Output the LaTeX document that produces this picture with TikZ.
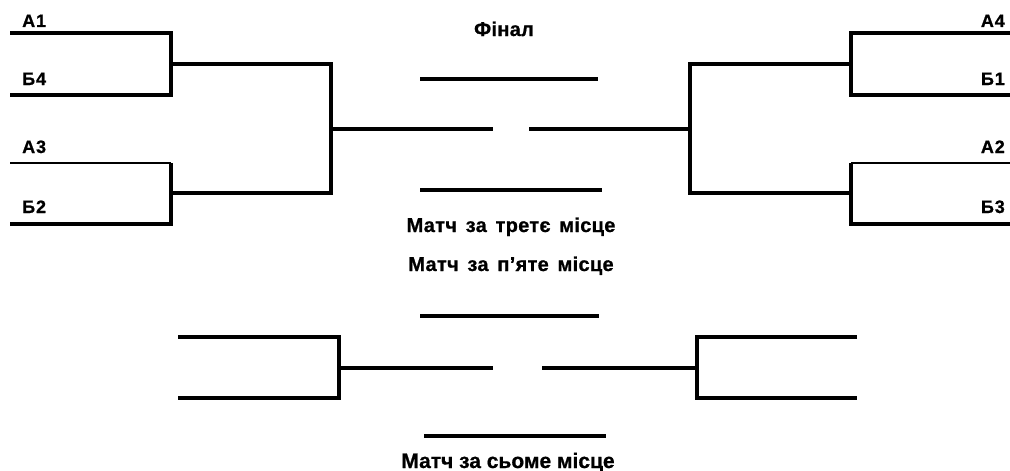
\documentclass[tikz,border=0pt]{standalone}
\usepackage{fontspec}
\setmainfont{Liberation Sans}
\newfontfamily\lblfont[LetterSpace=5,FakeBold=0.8]{Liberation Sans Bold}
\newfontfamily\ttlfont[LetterSpace=1.5,WordSpace=1.5,FakeBold=0.8]{Liberation Sans Bold}
\newfontfamily\svnfont[FakeBold=0.8]{Liberation Sans Bold}
\begin{document}
\begin{tikzpicture}[x=1pt,y=-1pt,
  line/.style={line width=4pt,line cap=butt},
  thinline/.style={line width=2.5pt},
  midline/.style={line width=3.2pt},
  lbl/.style={inner sep=0pt,anchor=base west,font=\lblfont\fontsize{18}{21}\selectfont},
  rlbl/.style={inner sep=0pt,anchor=base east,font=\lblfont\fontsize{18}{21}\selectfont},
  ttl/.style={inner sep=0pt,anchor=base,font=\ttlfont\fontsize{20}{23}\selectfont},
  svn/.style={inner sep=0pt,anchor=base,font=\svnfont\fontsize{21}{24}\selectfont}]
\useasboundingbox (0,0) rectangle (1010,471);
% left top bracket
\coordinate (a1s) at (10,33); \coordinate (a1e) at (171,33);
\coordinate (b4s) at (10,95); \coordinate (b4e) at (171,95);
\coordinate (a3s) at (10,163); \coordinate (a3e) at (171,163);
\coordinate (b2s) at (10,224); \coordinate (b2e) at (171,224);
\coordinate (l1m) at (170,64); \coordinate (l2m) at (170,193);
\coordinate (lq1) at (331,64); \coordinate (lq2) at (331,193);
\coordinate (lc) at (331,129); \coordinate (lce) at (493,129);
\draw[line] (a1s) -- (a1e) -- (b4e) -- (b4s);
\draw[thinline] (a3s) -- (a3e);
\draw[line] (a3e) -- (b2e) -- (b2s);
\draw[line] (l1m) -- (lq1) -- (lq2) -- (l2m);
\draw[line] (lc) -- (lce);
% right top bracket
\coordinate (a4s) at (1010,33); \coordinate (a4e) at (851,33);
\coordinate (b1s) at (1010,95); \coordinate (b1e) at (851,95);
\coordinate (a2s) at (1010,163); \coordinate (a2e) at (851,163);
\coordinate (b3s) at (1010,224); \coordinate (b3e) at (851,224);
\coordinate (r1m) at (852,64); \coordinate (r2m) at (852,193);
\coordinate (rq1) at (690,64); \coordinate (rq2) at (690,193);
\coordinate (rc) at (690,129); \coordinate (rce) at (529,129);
\draw[line] (a4s) -- (a4e) -- (b1e) -- (b1s);
\draw[thinline] (a2s) -- (a2e);
\draw[line] (a2e) -- (b3e) -- (b3s);
\draw[line] (r1m) -- (rq1) -- (rq2) -- (r2m);
\draw[line] (rc) -- (rce);
% final and third place lines
\coordinate (f1) at (420,79); \coordinate (f2) at (598,79);
\coordinate (t1) at (420,190); \coordinate (t2) at (602,190);
\draw[line] (f1) -- (f2);
\draw[line] (t1) -- (t2);
% labels
\node[lbl] (A1) at (22,27) {А1};
\node[lbl] (B4) at (22,85) {Б4};
\node[lbl] (A3) at (22,153) {А3};
\node[lbl] (B2) at (22,213) {Б2};
\node[rlbl] (A4) at (1005,27) {А4};
\node[rlbl] (B1) at (1005,85) {Б1};
\node[rlbl] (A2) at (1005,153) {А2};
\node[rlbl] (B3) at (1005,213) {Б3};
\node[ttl] (fin) at (504,36) {Фінал};
\node[ttl] (third) at (511,232) {Матч за третє місце};
\node[ttl] (fifth) at (511,271) {Матч за п’яте місце};
\node[svn] (seventh) at (508,468) {Матч за сьоме місце};
% bottom brackets
\coordinate (p1) at (420,316); \coordinate (p2) at (599,316);
\draw[line] (p1) -- (p2);
\coordinate (bl1s) at (178,337); \coordinate (bl1e) at (339,337);
\coordinate (bl2s) at (178,398); \coordinate (bl2e) at (339,398);
\coordinate (blm) at (338,368); \coordinate (blme) at (493,368);
\draw[line] (bl1s) -- (bl1e) -- (bl2e) -- (bl2s);
\draw[midline] (blm) -- (blme);
\coordinate (br1s) at (857,337); \coordinate (br1e) at (697,337);
\coordinate (br2s) at (857,398); \coordinate (br2e) at (697,398);
\coordinate (brm) at (698,368); \coordinate (brme) at (542,368);
\draw[line] (br1s) -- (br1e) -- (br2e) -- (br2s);
\draw[line] (brm) -- (brme);
\coordinate (s1) at (424,436); \coordinate (s2) at (606,436);
\draw[line] (s1) -- (s2);
\end{tikzpicture}
\end{document}
